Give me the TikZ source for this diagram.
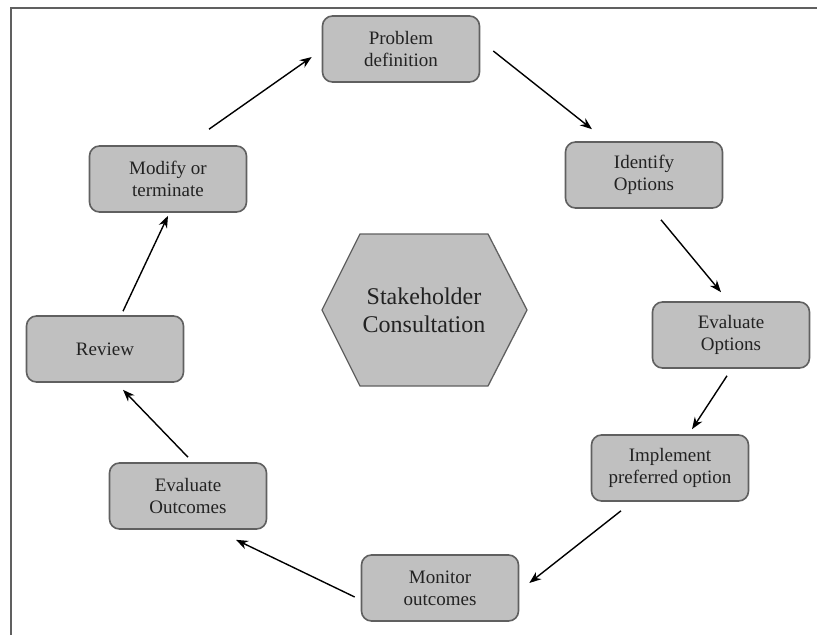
\documentclass[tikz,border=0pt]{standalone}
\usepackage{fontspec}
\setmainfont{Liberation Serif}
\usetikzlibrary{arrows.meta}
\definecolor{boxfill}{HTML}{C0C0C0}
\definecolor{boxedge}{HTML}{606060}
\definecolor{txt}{HTML}{222222}
\begin{document}
\begin{tikzpicture}[x=1pt,y=-1pt,
  stepbox/.style={draw=boxedge, line width=1.6pt, fill=boxfill, rounded corners=10pt,
    minimum width=157pt, minimum height=66pt, inner sep=2pt, align=center,
    text=txt, font=\fontsize{19}{22}\selectfont},
  arr/.style={line width=1.4pt, -{Stealth[length=12pt,width=9pt]}}]
\useasboundingbox (0,0) rectangle (817,635);
% frame
\draw[boxedge, line width=2pt] (10.5,635) -- (10.5,7.5) -- (817,7.5);
% hexagon
\fill[boxfill] (360,234) -- (488,234) -- (527,310) -- (488,386) -- (360,386) -- (322,310) -- cycle;
\draw[boxedge, line width=1.3pt] (360,234) -- (488,234) -- (527,310) -- (488,386) -- (360,386) -- (322,310) -- cycle;
\node[align=center, text=txt, font=\fontsize{24}{28}\selectfont] (hex) at (424,310) {Stakeholder\\Consultation};
% boxes
\node[stepbox] (pd) at (401,49) {Problem\\definition};
\node[stepbox] (io) at (644,175) {Identify\\Options};
\node[stepbox] (eo) at (731,335) {Evaluate\\Options};
\node[stepbox] (ip) at (670,468) {Implement\\preferred option};
\node[stepbox] (mo) at (440,588) {Monitor\\outcomes};
\node[stepbox] (eu) at (188,496) {Evaluate\\Outcomes};
\node[stepbox] (rv) at (105,349) {Review};
\node[stepbox] (mt) at (168,179) {Modify or\\terminate};
% arrows
\draw[arr] ([shift={(41,-16)}]mt.north) -- ([shift={(-10,8)}]pd.west);
\draw[arr] ([shift={(13,2)}]pd.east) -- ([shift={(-52,-12)}]io.north);
\draw[arr] ([shift={(17,11)}]io.south) -- ([shift={(-10,-9)}]eo.north);
\draw[arr] ([shift={(-4,7)}]eo.south) -- ([shift={(22,-5)}]ip.north);
\draw[arr] ([shift={(-49,9)}]ip.south) -- ([shift={(10,-5)}]mo.east);
\draw[arr] ([shift={(-6,9)}]mo.west) -- ([shift={(48,10)}]eu.south);
\draw[arr] ([shift={(0,-5)}]eu.north) -- ([shift={(18,7)}]rv.south);
\draw[arr] ([shift={(18,-4)}]rv.north) -- ([shift={(0,3)}]mt.south);
\end{tikzpicture}
\end{document}
